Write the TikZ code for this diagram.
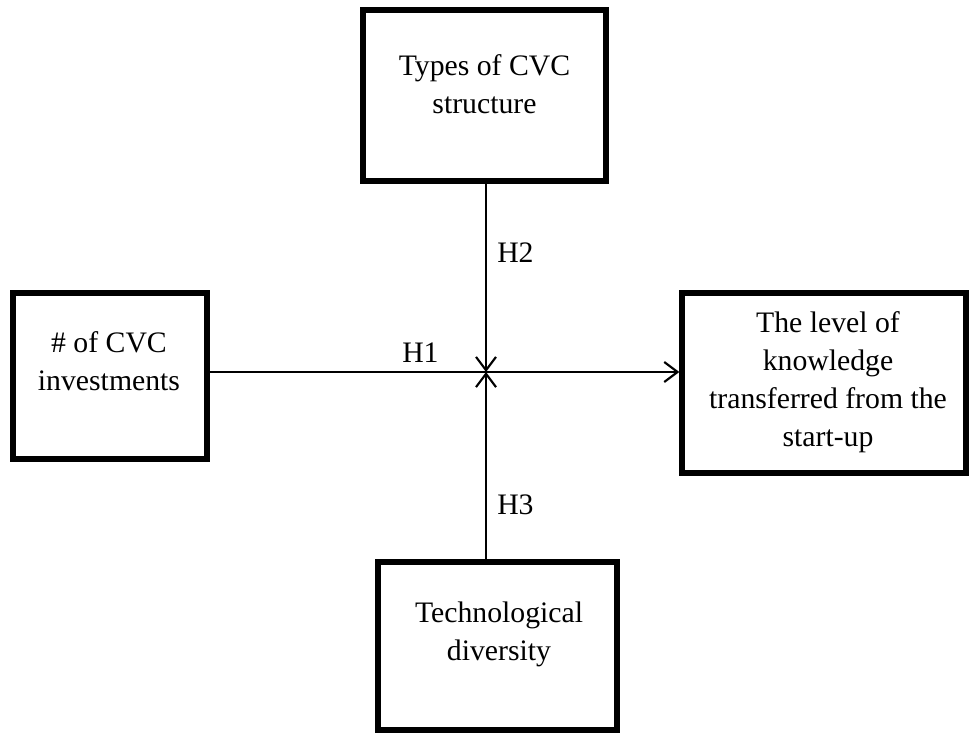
\documentclass[tikz,border=0pt]{standalone}
\usepackage{fontspec}
\setmainfont{Liberation Serif}
\usetikzlibrary{arrows.meta}

\begin{document}
\begin{tikzpicture}[x=0.75pt, y=-0.75pt,
        font=\fontsize{22.3pt}{28.5pt}\selectfont,
        cbox/.style={draw, line width=4pt, inner sep=0pt},
        ctext/.style={align=center, inner sep=0pt, anchor=base},
        hlabel/.style={inner sep=0pt, anchor=base west},
        conn/.style={line width=1.6pt, -{Straight Barb[length=10pt, width=15pt]}}]
        \useasboundingbox (0,0) rectangle (969,732);
        % boxes
        \node[cbox, minimum width=182.25pt, minimum height=128.25pt] (types) at (484.5,95.5) {};
        \node[cbox, minimum width=145.5pt, minimum height=124.5pt] (invest) at (110,376) {};
        \node[cbox, minimum width=213pt, minimum height=135pt] (know) at (824,383) {};
        \node[cbox, minimum width=179.25pt, minimum height=126pt] (tech) at (497.5,646) {};
        % box texts (anchored on the last line)
        \node[ctext] (typesT) at (484.5,113) {Types of CVC\\structure};
        \node[ctext] (investT) at (109,390) {\# of CVC\\investments};
        \node[ctext] (knowT) at (828,446) {The level of\\knowledge\\transferred from the\\start-up};
        \node[ctext] (techT) at (499,660) {Technological\\diversity};
        % links
        \coordinate (hub) at (486,372);
        \draw[conn] (invest.east |- hub) -- (know.west |- hub);
        \draw[conn] (types.south -| hub) -- (hub);
        \draw[conn] (tech.north -| hub) -- (hub);
        \node[hlabel] (h1) at (402,362) {H1};
        \node[hlabel] (h2) at (497,262) {H2};
        \node[hlabel] (h3) at (497,514) {H3};
    \end{tikzpicture}
\end{document}
